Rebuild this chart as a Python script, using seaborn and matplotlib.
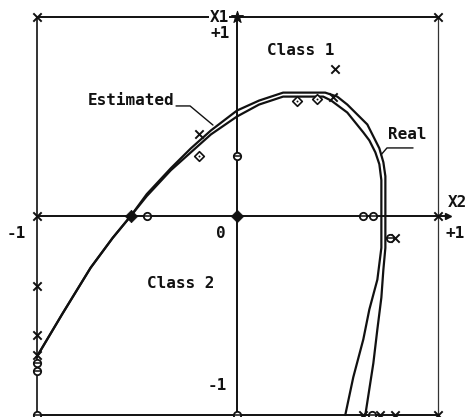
import matplotlib
matplotlib.use("Agg")
import matplotlib.pyplot as plt
import seaborn as sns

# Decision boundaries in the (X2, X1) plane
real_x2 = [-1.00, -0.87, -0.73, -0.62, -0.53, -0.45, -0.33, -0.23, -0.13, 0.00, 0.11, 0.23,
           0.38, 0.44, 0.50, 0.55, 0.60, 0.65, 0.68, 0.71, 0.73, 0.74, 0.74, 0.74, 0.74,
           0.74, 0.73, 0.72, 0.70, 0.68, 0.64]
real_x1 = [-0.71, -0.49, -0.26, -0.11, 0.00, 0.11, 0.24, 0.34, 0.43, 0.53, 0.58, 0.62,
           0.62, 0.62, 0.60, 0.56, 0.51, 0.46, 0.40, 0.34, 0.27, 0.20, 0.13, 0.07, 0.00,
           -0.16, -0.27, -0.41, -0.57, -0.74, -1.00]

est_x2 = [-1.00, -0.87, -0.73, -0.62, -0.53, -0.45, -0.33, -0.23, -0.13, 0.00, 0.11, 0.23,
          0.38, 0.43, 0.47, 0.51, 0.55, 0.59, 0.63, 0.66, 0.69, 0.71, 0.72, 0.72, 0.72,
          0.72, 0.70, 0.66, 0.63, 0.58, 0.54]
est_x1 = [-0.71, -0.49, -0.26, -0.11, 0.00, 0.10, 0.23, 0.32, 0.41, 0.50, 0.56, 0.60,
          0.60, 0.60, 0.58, 0.55, 0.52, 0.47, 0.42, 0.38, 0.32, 0.26, 0.18, 0.08, 0.00,
          -0.16, -0.32, -0.47, -0.62, -0.81, -1.00]

# Sample points
cross_x2 = [0.49, 0.48, -0.19, -1.00, 1.00, -1.00, 1.00, -1.00, -1.00, -1.00, 0.63, 0.715, 0.79, 1.00, 0.79]
cross_x1 = [0.74, 0.60, 0.41, 1.00, 1.00, 0.00, 0.00, -0.35, -0.60, -0.70, -1.00, -1.00, -1.00, -1.00, -0.11]

circle_x2 = [0.00, -0.45, 0.63, 0.68, -1.00, -1.00, -1.00, 0.00, 0.675, 0.765]
circle_x1 = [0.30, 0.00, 0.00, 0.00, -0.74, -0.78, -1.00, -1.00, -1.00, -0.11]

diamond_x2 = [0.30, 0.40, -0.19]
diamond_x1 = [0.58, 0.59, 0.30]

solid_x2 = [-0.53, 0.00]
solid_x1 = [0.00, 0.00]

sns.set_theme(style="white")
plt.rcParams['font.family'] = ['DejaVu Sans Mono', 'DejaVu Sans']

fig = plt.figure(figsize=(4.68, 4.17), dpi=100)
ax = fig.add_axes([0, 0, 1, 1])
ax.set_xlim(-237 / 200.5, (468 - 237) / 200.5)
ax.set_ylim((216 - 417) / 199, 216 / 199)
ax.axis('off')

ink = '#111111'

# frame and axes
ax.plot([-1, 1], [1, 1], color=ink, lw=1.4, zorder=1)
ax.plot([-1, -1], [1, -1], color=ink, lw=1.2, zorder=1)
ax.plot([1, 1], [1, -1], color='#333333', lw=0.9, zorder=1)
ax.plot([-1, 1], [-1, -1], color=ink, lw=1.4, zorder=1)
ax.plot([0, 0], [1, -1], color=ink, lw=1.4, zorder=1)
ax.plot([-1, 1.05], [0, 0], color=ink, lw=1.4, zorder=1)
ax.plot([1.05], [0], marker='>', color=ink, ms=5, zorder=2)

# boundaries
sns.lineplot(x=real_x2, y=real_x1, sort=False, estimator=None, color=ink, lw=1.6, ax=ax, zorder=3)
sns.lineplot(x=est_x2, y=est_x1, sort=False, estimator=None, color=ink, lw=1.6, ax=ax, zorder=3)

# sample markers
sns.scatterplot(x=cross_x2, y=cross_x1, marker='x', s=36, color=ink, linewidth=1.4, ax=ax, zorder=4)
sns.scatterplot(x=circle_x2, y=circle_x1, marker='o', s=28, facecolor='white', edgecolor=ink,
                linewidth=1.3, ax=ax, zorder=4)
sns.scatterplot(x=circle_x2, y=circle_x1, marker='_', s=28, color=ink, linewidth=1.1, ax=ax, zorder=5)
sns.scatterplot(x=diamond_x2, y=diamond_x1, marker='D', s=24, facecolor='white', edgecolor=ink,
                linewidth=1.2, ax=ax, zorder=4)
sns.scatterplot(x=diamond_x2, y=diamond_x1, marker='.', s=8, color=ink, linewidth=0, ax=ax, zorder=5)
sns.scatterplot(x=solid_x2, y=solid_x1, marker='D', s=40, color=ink, edgecolor=ink, ax=ax, zorder=4)
sns.scatterplot(x=[0.0], y=[1.0], marker='*', s=80, color=ink, edgecolor=ink, ax=ax, zorder=4)

# labels
fs = 11.5
tkw = dict(fontsize=fs, fontweight='bold', color=ink, ha='center', va='center', zorder=6)
ax.text(-0.09, 1.0, 'X1', bbox=dict(facecolor='white', edgecolor='none', pad=0.5), **tkw)
ax.text(-0.085, 0.915, '+1', **tkw)
ax.text(0.32, 0.83, 'Class 1', **tkw)
ax.text(-0.53, 0.58, 'Estimated', **tkw)
ax.text(0.85, 0.41, 'Real', **tkw)
ax.text(1.10, 0.07, 'X2', **tkw)
ax.text(1.09, -0.09, '+1', **tkw)
ax.text(-1.10, -0.09, '-1', **tkw)
ax.text(-0.08, -0.09, '0', **tkw)
ax.text(-0.28, -0.34, 'Class 2', **tkw)
ax.text(-0.10, -0.85, '-1', **tkw)

# leader lines
ax.plot([-0.304, -0.234, -0.12], [0.553, 0.553, 0.457], color=ink, lw=1.0, zorder=5)
ax.plot([0.878, 0.748, 0.718], [0.342, 0.342, 0.307], color=ink, lw=1.0, zorder=5)

fig.savefig('out.png', dpi=100, facecolor='white')
